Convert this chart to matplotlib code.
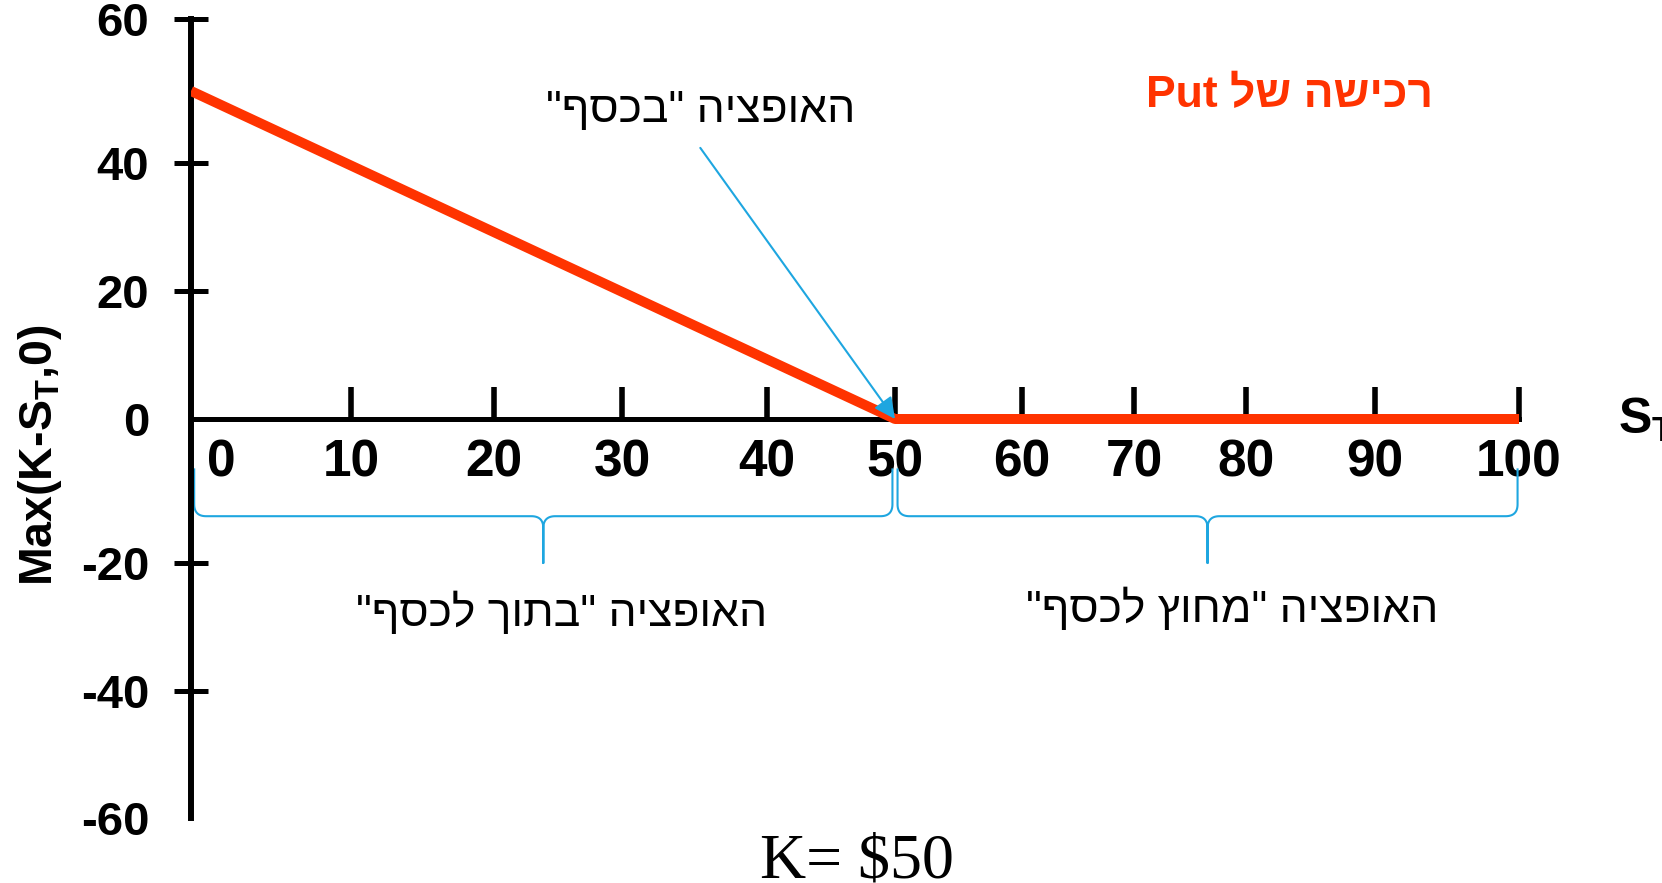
import numpy as np
import matplotlib
matplotlib.use('Agg')
import matplotlib.pyplot as plt

# long put payoff, K = 50
s_t = [0, 50, 100]
payoff = [50, 0, 0]

x_ticks = [0, 10, 20, 30, 40, 50, 60, 70, 80, 90, 100]
y_ticks = [-60, -40, -20, 0, 20, 40, 60]

title_txt = 'רכישה של Put'
atm_txt = 'האופציה "בכסף"'
itm_txt = 'האופציה "בתוך לכסף"'
otm_txt = 'האופציה "מחוץ לכסף"'
strike_txt = r'K= \$50'

# the slide's axes are hand drawn, tick spacing is not even (pixel positions of ticks)
x_tick_px = [191, 351, 494, 622, 767, 895, 1022, 1134, 1246, 1375, 1519]
y_tick_px = [818, 691, 563, 419, 291, 163, 19]

RED = '#FF3300'
BLUE = '#1EA6E0'

plt.rcParams['font.family'] = ['Liberation Sans', 'DejaVu Sans']
plt.rcParams['mathtext.fontset'] = 'custom'
plt.rcParams['mathtext.rm'] = 'Liberation Sans'
plt.rcParams['mathtext.bf'] = 'Liberation Sans:bold'


def rtl(s):
    # matplotlib has no bidi support, so flip hebrew words by hand
    words = s.split(' ')
    out = [w[::-1] if any('\u0590' <= c <= '\u05ff' for c in w) else w for w in words]
    return ' '.join(out[::-1])


def warp(vals, px):
    vals = np.asarray(vals, float)
    px = np.asarray(px, float)
    if px[0] > px[-1]:
        px = -px
    k0 = (px[1] - px[0]) / (vals[1] - vals[0])
    k1 = (px[-1] - px[-2]) / (vals[-1] - vals[-2])

    def fwd(v):
        v = np.asarray(v, float)
        out = np.interp(v, vals, px)
        out = np.where(v < vals[0], px[0] + (v - vals[0]) * k0, out)
        out = np.where(v > vals[-1], px[-1] + (v - vals[-1]) * k1, out)
        return out

    def inv(p):
        p = np.asarray(p, float)
        out = np.interp(p, px, vals)
        out = np.where(p < px[0], vals[0] + (p - px[0]) / k0, out)
        out = np.where(p > px[-1], vals[-1] + (p - px[-1]) / k1, out)
        return out
    return fwd, inv


W, H = 1662, 883
fig = plt.figure(figsize=(W / 100, H / 100), dpi=100)
ax = fig.add_axes([191 / W, 1 - 818 / H, 1328 / W, 799 / H])

ax.set_xscale('function', functions=warp(x_ticks, x_tick_px))
ax.set_yscale('function', functions=warp(y_ticks, y_tick_px))
ax.set_xlim(0, 100)
ax.set_ylim(-60, 60)

ax.spines['top'].set_visible(False)
ax.spines['right'].set_visible(False)
ax.spines['bottom'].set_position(('data', 0))
ax.spines['left'].set_linewidth(4.3)
ax.spines['bottom'].set_linewidth(3.6)

xpad = 14
ax.set_xticks(x_ticks, [''] + [str(v) for v in x_ticks[1:]], fontsize=37, fontweight='bold')
ax.set_yticks(y_ticks, [str(v) for v in y_ticks], fontsize=34, fontweight='bold')
ax.tick_params(axis='x', direction='in', length=23, width=4, pad=xpad)
ax.tick_params(axis='y', direction='inout', length=24, width=3.6, pad=18)
ax.xaxis.get_major_ticks()[0].tick1line.set_visible(False)
ax.yaxis.get_major_ticks()[0].tick1line.set_visible(False)
ax.yaxis.get_major_ticks()[3].tick1line.set_visible(False)
ax.annotate('0', xy=(0, 0), xytext=(22, -xpad), textcoords='offset points',
            ha='center', va='top', fontsize=37, fontweight='bold')

ax.plot(s_t, payoff, color=RED, linewidth=7.2, solid_capstyle='butt', zorder=4)

ax.set_ylabel(r'Max(K-S$_\mathbf{T}$,0)', fontsize=33.5, fontweight='bold', va='center', ha='center')
ax.yaxis.set_label_coords(-0.1137, 0.454)
ax.text(1.0745, 0.498, r'S$_\mathbf{T}$', transform=ax.transAxes, fontsize=36,
        fontweight='bold', ha='left', va='center', clip_on=False)

ax.text(83.4, 49.4, rtl(title_txt), color=RED, fontsize=32, fontweight='bold', ha='center', va='center')
ax.text(35.4, 47.3, rtl(atm_txt), fontsize=32, ha='center', va='center')
ax.annotate('', xy=(50, 0), xytext=(35.4, 42.1),
            arrowprops=dict(arrowstyle='-|>', color=BLUE, lw=1.5, mutation_scale=32,
                            shrinkA=0, shrinkB=0), zorder=5)
ax.text(25.3, -27.8, rtl(itm_txt), fontsize=32, ha='center', va='center')
ax.text(78.8, -27.3, rtl(otm_txt), fontsize=32, ha='center', va='center')


def brace(x0, x1, y_tip, y_line, y_mid, r=12):
    T = ax.transData
    X0, Yt = T.transform((x0, y_tip))
    X1, Yl = T.transform((x1, y_line))
    Ym = T.transform((x0, y_mid))[1]
    Xm = (X0 + X1) / 2
    t = np.linspace(0, 1, 20)[:, None]

    def quad(a, c, b):
        a, c, b = np.array(a), np.array(c), np.array(b)
        return (1 - t) ** 2 * a + 2 * (1 - t) * t * c + t ** 2 * b

    pts = np.vstack([
        [(X0, Yt)],
        quad((X0, Yl + r), (X0, Yl), (X0 + r, Yl)),
        quad((Xm - r, Yl), (Xm, Yl), (Xm, Yl - r)),
        [(Xm, Ym)],
        quad((Xm, Yl - r), (Xm, Yl), (Xm + r, Yl)),
        quad((X1 - r, Yl), (X1, Yl), (X1, Yl + r)),
        [(X1, Yt)],
    ])
    d = T.inverted().transform(pts)
    ax.plot(d[:, 0], d[:, 1], color=BLUE, lw=1.5, clip_on=False)


brace(0.2, 49.8, -7, -13.5, -20)
brace(50.2, 99.9, -7, -13.5, -20)

fig.text(857 / W, 1 - 877 / H, strike_txt, ha='center', va='baseline', fontsize=46,
         family='Liberation Serif')

fig.savefig('out.png', dpi=100)
